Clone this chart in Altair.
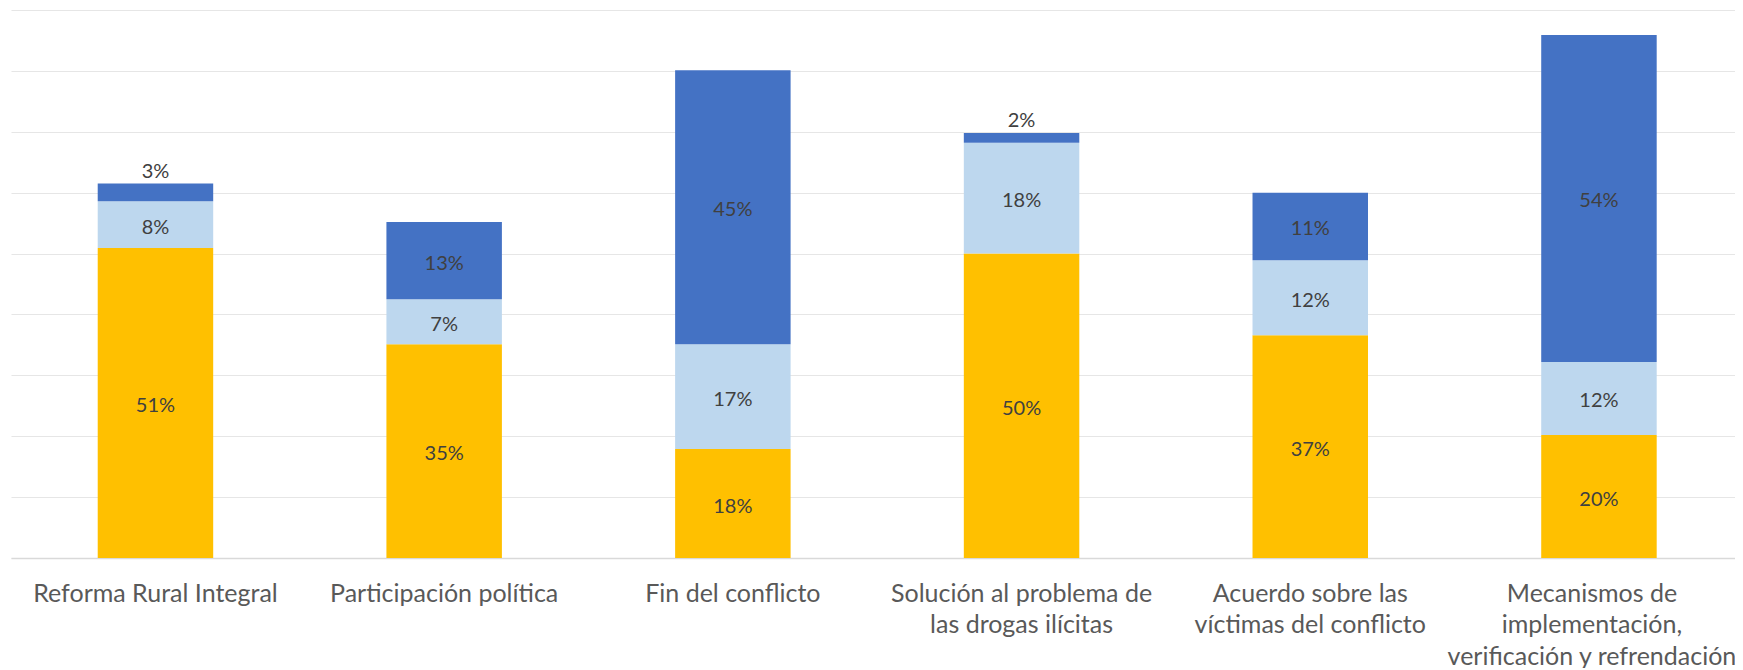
import altair as alt
import pandas as pd

categories = [
    "Reforma Rural Integral",
    "Participación política",
    "Fin del conflicto",
    "Solución al problema de\nlas drogas ilícitas",
    "Acuerdo sobre las\nvíctimas del conflicto",
    "Mecanismos de\nimplementación,\nverificación y refrendación",
]
series = ["Serie 1", "Serie 2", "Serie 3"]
serie1 = [50.9, 35.1, 17.9, 50.0, 36.6, 20.2]
serie2 = [7.7, 7.4, 17.2, 18.2, 12.3, 12.0]
serie3 = [2.9, 12.7, 45.0, 1.6, 11.1, 53.7]
colors = ["#FFC000", "#BDD7EE", "#4472C4"]
grid_values = [0, 10, 20, 30, 40, 50, 60, 70, 80, 90]

rows = []
for i, cat in enumerate(categories):
    for k, (name, vals) in enumerate(zip(series, [serie1, serie2, serie3])):
        rows.append({"cat": cat, "serie": name, "order": k, "value": vals[i]})
df = pd.DataFrame(rows)

base = (
    alt.Chart(df)
    .transform_stack(stack="value", groupby=["cat"], as_=["y0", "y1"],
                     sort=[alt.SortField("order", order="ascending")])
    .transform_calculate(mid="(datum.y0 + datum.y1) / 2",
                         label="format(datum.value, '.0f') + '%'")
)

x_scale = alt.Scale(paddingInner=0.6, paddingOuter=0.2858, align=0.5255)
x_enc = alt.X(
    "cat:N",
    sort=categories,
    title=None,
    scale=x_scale,
    axis=alt.Axis(
        labelExpr="split(datum.label, '\\n')",
        labelAngle=0,
        labelFont="Lato",
        labelFontSize=25,
        labelColor="#595959",
        labelLineHeight=31.5,
        labelLimit=600,
        labelOverlap=False,
        labelPadding=23,
        labelBaseline="top",
        labelOffset={"condition": {"test": "indexof(datum.value, 'Mecanismos') == 0",
                                   "value": -7},
                     "value": 0},
        ticks=False,
        domain=True,
        domainColor="#D9D9D9",
        domainWidth=1.5,
        grid=False,
    ),
)
y_scale = alt.Scale(domain=[0, 90], nice=False, zero=True)

bars = base.mark_bar().encode(
    x=x_enc,
    y=alt.Y(
        "y0:Q",
        scale=y_scale,
        title=None,
        axis=alt.Axis(values=grid_values, labels=False, ticks=False,
                      domain=False, grid=True, gridColor="#E6E6E6",
                      gridWidth=1.2),
    ),
    y2="y1:Q",
    color=alt.Color("serie:N", scale=alt.Scale(domain=series, range=colors),
                    legend=None),
)

inner = base.transform_filter("datum.value >= 5").mark_text(
    font="Lato", fontSize=20, color="#404040", baseline="middle", align="center",
    dy=3,
).encode(
    x=alt.X("cat:N", sort=categories),
    y=alt.Y("mid:Q", scale=y_scale),
    text="label:N",
)

top = base.transform_filter("datum.value < 5").mark_text(
    font="Lato", fontSize=20, color="#404040", baseline="bottom", align="center",
    dy=-2,
).encode(
    x=alt.X("cat:N", sort=categories),
    y=alt.Y("y1:Q", scale=y_scale),
    text="label:N",
)

chart = (
    alt.layer(bars, inner, top)
    .properties(
        width=1724,
        height=548,
        padding={"left": 3, "top": 2, "right": 0, "bottom": 110},
        autosize=alt.AutoSizeParams(type="none"),
        background="white",
    )
    .configure_view(stroke=None)
)

chart.save("out.html", embed_options={"renderer": "svg", "actions": False})
